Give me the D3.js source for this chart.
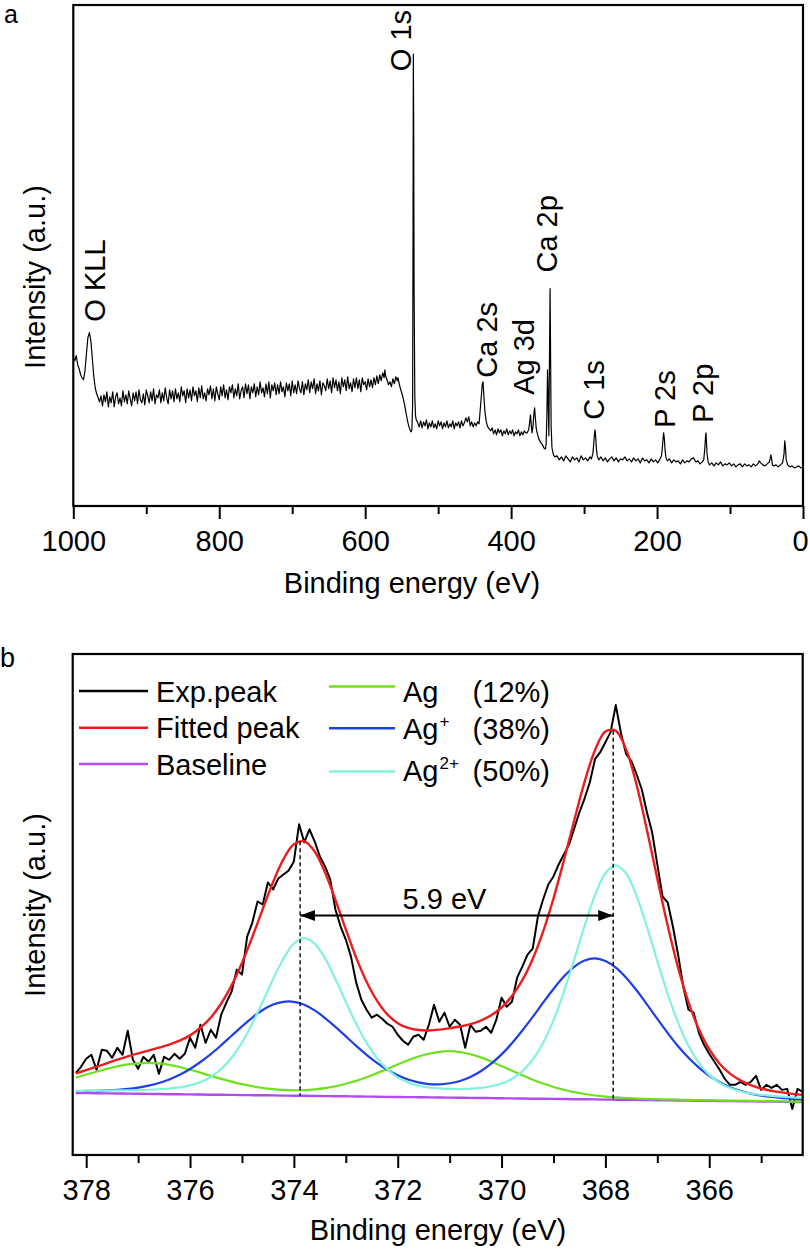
<!DOCTYPE html>
<html><head><meta charset="utf-8">
<script src="https://cdn.jsdelivr.net/npm/d3@7"></script>
<style>body{margin:0;background:#fff}svg{display:block}</style>
</head><body>
<svg id="chart" width="810" height="1249"></svg>
<script>
// ---------------- Panel a : survey spectrum ----------------
const surveyPoints = [
[1000,148],[998,145],[996,150],[994,141],[992,137],[990,131],[988,128],[986,126],[984,135],[982,152],[980,168],[978,173],[976,165],[974,148],[972,130],[970,118],[968,112],[966,108],[964,104],[962,110],
[960,100],[958,111],[956,104],[954,114],[952,99],[950,109],[948,103],[946,114],[944,99],[942,109],[940,113],[938,102],[936,108],[934,100],[932,115],[930,104],[928,111],[926,102],[924,115],[922,107],
[920,100],[918,113],[916,105],[914,114],[912,102],[910,116],[908,106],[906,103],[904,112],[902,101],[900,116],[898,110],[896,103],[894,114],[892,105],[890,117],[888,102],[886,111],[884,108],[882,116],
[880,103],[878,113],[876,105],[874,118],[872,108],[870,102],[868,116],[866,107],[864,115],[862,104],[860,117],[858,107],[856,113],[854,104],[852,119],[850,110],[848,115],[846,103],[844,117],[842,108],
[840,116],[838,105],[836,119],[834,110],[832,115],[830,104],[828,118],[826,108],[824,120],[822,107],[820,113],[818,105],[816,117],[814,111],[812,120],[810,107],[808,117],[806,105],[804,119],[802,112],
[800,106],[798,119],[796,110],[794,121],[792,108],[790,116],[788,106],[786,119],[784,113],[782,121],[780,108],[778,117],[776,110],[774,122],[772,107],[770,115],[768,119],[766,108],[764,122],[762,112],
[760,121],[758,107],[756,119],[754,113],[752,122],[750,109],[748,119],[746,111],[744,124],[742,113],[740,118],[738,109],[736,122],[734,112],[732,124],[730,108],[728,121],[726,115],[724,123],[722,111],
[720,121],[718,112],[716,124],[714,114],[712,119],[710,109],[708,123],[706,115],[704,122],[702,110],[700,125],[698,113],[696,121],[694,112],[692,125],[690,117],[688,113],[686,124],[684,111],[682,122],
[680,116],[678,126],[676,113],[674,124],[672,117],[670,127],[668,112],[666,122],[664,115],[662,125],[660,111],[658,123],[656,120],[654,115],[652,127],[650,117],[648,125],[646,113],[644,128],[642,118],
[640,126],[638,115],[636,124],[634,112],[632,128],[630,119],[628,126],[626,115],[624,129],[622,117],[620,123],[618,114],[616,127],[614,118],[612,128],[610,117],[608,126],[606,114],[604,128],[602,121],
[600,124],[598,116],[596,127],[594,119],[592,126],[590,118],[588,128],[586,121],[584,130],[582,122],[580,131],[578,125],[576,133],[574,128],[573,136],[572,130],[570,126],[568,121],[566,124],[564,119],[562,127],[560,122],[558,129],[556,125],[555,128],[554,124],[552,118],[550,113],[548,108],[546,101],[544,93],[542,85],[540,79],[538,75],[537,74],[536,76],[535,100],[534.5,250],[534,451],[533.5,380],[533,220],[532,110],[531,90],[530,86],
[528,83],[526,79],[524,85],[522,78],[520,84],[518,80],[516,86],[514,77],[512,83],[510,79],[508,85],[506,78],[504,82],[502,77],[500,85],[498,80],[496,84],[494,77],[492,83],[490,79],[488,85],[486,78],[484,82],[482,79],[480,85],[478,77],[476,83],[474,80],[472,84],[470,78],[468,85],[466,80],[464,83],[462,88],[460,84],[458,89],[456,80],[454,84],[452,79],[450,83],[448,80],[446,84],[444,82],[443,90],[441,108],[439.5,122],[438.5,124],[437.5,112],[436,95],[434,84],[432,79],[430,77],
[428,75],[426,78],[424,72],[422,76],[420,71],[418,77],[416,73],[414,76],[412,70],[410,75],[408,72],[406,77],[404,71],[402,75],[400,72],[398,76],[396,70],[394,74],[392,72],[390,76],[388,70],[386,74],[384,71],[382,75],[380,73],[378,73],[376,76],[374.5,84],[373.5,91],[372.5,82],[371.4,73],[370,80],[368.8,92],[367.8,98],[366.8,88],[365.5,77],[364.3,73],[362,67],[360,64],[357,61],[355,58],[353,57],[352,62],[351,90],[350.1,136],[349.2,105],[348.3,70],[347.4,150],[346.6,217],[345.9,150],[345.2,80],[344,58],[342,51],[340,49],
[337,50],[334,46],[331,49],[328,45],[325,50],[322,47],[319,44],[316,49],[313,46],[310,48],[307,44],[304,50],[301,46],[298,48],[295,45],[292,49],[290,47],[288,52],[287,60],[286,70],[285,76],[284,68],[283,56],[282,50],[280,46],[277,49],[274,45],[271,48],[268,44],[265,47],[262,49],[259,45],[256,48],[253,44],[250,47],[247,46],[244,49],[241,45],[238,47],[235,44],[232,48],[229,45],[226,47],[223,43],[220,48],[217,45],[214,46],[211,43],[208,47],[205,44],[202,46],[199,43],[196,47],[194,50],[193,56],[192,65],[191,73],[190,67],[189,56],[188,49],[186,45],[183,47],[180,43],[177,46],[174,44],[171,45],[168,42],[165,46],[162,43],[159,45],[156,44],[153,47],[150,48],[147,44],[144,45],[141,42],[138,44],[136,46],[134.5,58],[133.5,70],[133,73],[132.3,64],[131.5,52],[130,44],[128,41],[125,43],[122,40],[119,43],[116,41],[113,44],[110,40],[107,42],[104,41],[101,43],[98,40],[95,42],[92,39],[89,41],[86,42],[83,39],[80,42],[77,40],[74,41],[71,39],[68,42],[65,40],[62,42],[60,45],[58,43],[55,41],[52,40],[49,42],[46,44],[44,51],[43,47],[42,41],[40,40],[37,41],[34,39],[31,41],[28,43],[26,52],[25,65],[24,58],[23,46],[21,41],[18,39],[15,40],[12,38],[9,39],[6,40],[3,38],[0,39]
];
const surveyTicks = [1000, 800, 600, 400, 200, 0];
const surveyMinorTicks = [900, 700, 500, 300, 100];
const peakLabelText = ["O KLL", "O 1s", "Ca 2s", "Ag 3d", "Ca 2p", "C 1s", "P 2s", "P 2p"];
const peakLabelEnergy = [970.3, 551, 433, 382.4, 350.8, 286.5, 189.2, 137.2];
const peakLabelBottom = [184, 434, 128, 111, 233, 86, 78, 83];

// ---------------- Panel b : Ag 3d high resolution ----------------
const hrTicks = [378, 376, 374, 372, 370, 368, 366];
const hrMinorTicks = [377, 375, 373, 371, 369, 367, 365];
const fitEnergy = [378.2,378.0,377.8,377.6,377.4,377.2,377.0,376.8,376.6,376.4,376.2,376.0,375.8,375.6,375.4,375.2,375.0,374.8,374.6,374.4,374.2,374.0,373.8,373.6,373.4,373.2,373.0,372.8,372.6,372.4,372.2,372.0,371.8,371.6,371.4,371.2,371.0,370.8,370.6,370.4,370.2,370.0,369.8,369.6,369.4,369.2,369.0,368.8,368.6,368.4,368.2,368.0,367.8,367.6,367.4,367.2,367.0,366.8,366.6,366.4,366.2,366.0,365.8,365.6,365.4,365.2,365.0,364.8,364.6,364.4,364.2];
const baselineValues = [61.9,61.8,61.6,61.5,61.4,61.3,61.1,61.0,60.9,60.7,60.6,60.5,60.4,60.2,60.1,60.0,59.8,59.7,59.6,59.5,59.3,59.2,59.1,58.9,58.8,58.7,58.6,58.4,58.3,58.2,58.0,57.9,57.8,57.7,57.5,57.4,57.3,57.1,57.0,56.9,56.8,56.6,56.5,56.4,56.2,56.1,56.0,55.9,55.7,55.6,55.5,55.3,55.2,55.1,55.0,54.8,54.7,54.6,54.4,54.3,54.2,54.1,53.9,53.8,53.7,53.5,53.4,53.3,53.2,53.0,52.9];
const agValues = [77.4,80.3,83.1,85.9,88.4,90.4,91.5,91.9,91.4,89.9,87.8,85.1,82.2,79.0,76.0,73.2,70.7,68.6,66.9,65.7,64.9,64.6,64.8,65.5,66.7,68.6,71.1,74.0,77.6,81.7,85.9,90.3,94.5,98.3,101.1,103.0,103.6,102.7,100.6,97.4,93.4,88.8,84.2,79.6,75.2,71.3,67.9,65.1,62.7,60.9,59.4,58.3,57.5,56.9,56.4,56.0,55.7,55.5,55.2,55.0,54.8,54.7,54.4,54.3,54.2,54.0,53.8,53.7,53.6,53.4,53.2];
const agPlusValues = [63.8,63.9,64.1,64.5,65.1,66.0,67.3,69.2,71.9,75.4,80.0,85.8,92.8,100.7,109.6,119.0,128.4,137.2,144.7,150.1,152.9,152.9,149.9,144.3,136.7,127.9,118.4,108.9,100.0,92.0,85.1,79.6,75.4,72.5,70.8,70.5,71.6,73.9,77.9,83.6,91.1,100.4,111.5,124.2,137.8,152.0,165.7,178.1,187.8,194.1,196.2,193.7,187.1,177.0,164.4,150.3,135.8,121.7,108.5,97.0,87.2,79.1,72.6,67.7,64.1,61.3,59.3,57.9,57.0,56.1,55.6];
const ag2PlusValues = [64.0,64.1,64.1,64.2,64.4,64.6,64.8,65.1,65.6,66.3,67.5,69.5,72.8,77.9,85.8,97.1,112.2,131.2,153.0,175.7,196.1,211.1,216.5,210.9,196.2,175.6,152.9,130.9,111.9,96.8,85.4,77.5,72.5,69.3,67.4,66.4,66.0,65.8,66.2,67.0,68.6,71.2,75.9,83.5,95.1,111.8,134.4,162.6,195.0,228.8,259.4,281.2,289.1,280.9,258.7,227.7,193.6,160.7,132.1,109.1,92.0,80.0,71.9,66.8,63.6,61.4,60.0,59.0,58.3,57.5,57.0];
const fittedValues = [81.4,84.7,88.1,91.6,95.1,98.4,101.4,104.2,107.1,110.2,114.1,119.4,127.0,137.2,151.2,169.3,191.7,217.6,245.4,272.5,295.3,310.2,313.0,302.9,282.0,254.7,225.2,197.0,172.9,154.1,140.4,131.6,126.8,124.7,124.3,125.1,126.6,128.2,130.7,134.2,139.5,147.2,158.6,174.5,195.7,222.9,256.0,294.0,334.1,372.6,404.0,422.6,423.3,404.6,369.5,324.4,275.7,228.7,187.0,152.5,125.6,105.6,91.1,81.2,74.5,69.7,66.3,64.0,62.5,61.0,60.0];
const expPoints = [
[378.2,82],[378.1,88],[378.0,96],[377.9,100],[377.8,85],[377.7,105],[377.6,104],[377.5,97],[377.4,107],[377.3,100],[377.2,124],[377.1,95],
[377.0,86],[376.9,98],[376.8,93],[376.7,100],[376.6,81],[376.5,98],[376.4,95],[376.3,101],[376.2,96],[376.1,101],
[376.0,117],[375.9,107],[375.8,130],[375.7,112],[375.6,125],[375.5,117],[375.4,140],[375.3,152],[375.2,163],[375.1,185],
[375.0,180],[374.9,218],[374.8,232],[374.7,253],[374.6,250],[374.5,272],[374.4,265],[374.3,276],[374.2,280],[374.1,284],
[374.0,293],[373.9,330],[373.8,312],[373.7,325],[373.6,313],[373.5,298],[373.4,288],[373.3,275],[373.2,245],[373.1,228],
[373.0,215],[372.9,198],[372.8,172],[372.7,155],[372.6,145],[372.5,137],[372.4,140],[372.3,136],[372.2,131],[372.1,128],
[372.0,120],[371.9,114],[371.8,110],[371.7,118],[371.6,120],[371.5,115],[371.4,130],[371.3,150],[371.2,133],[371.1,142],
[371.0,128],[370.9,135],[370.8,130],[370.7,107],[370.6,130],[370.5,123],[370.4,124],[370.3,128],[370.2,122],[370.1,135],
[370.0,157],[369.9,148],[369.8,153],[369.7,177],[369.6,188],[369.5,200],[369.4,206],[369.3,238],[369.2,255],[369.1,270],
[369.0,278],[368.9,290],[368.8,300],[368.7,310],[368.6,326],[368.5,342],[368.4,356],[368.3,372],[368.2,395],[368.1,402],
[368.0,412],[367.9,422],[367.8,449],[367.7,421],[367.6,400],[367.5,393],[367.4,380],[367.3,365],[367.2,342],[367.1,322],
[367.0,290],[366.9,258],[366.8,252],[366.7,228],[366.6,200],[366.5,168],[366.4,145],[366.3,142],[366.2,122],[366.1,110],
[366.0,101],[365.9,93],[365.8,85],[365.7,76],[365.6,70],[365.5,70],[365.4,73],[365.3,70],[365.2,73],[365.1,79],
[365.0,65],[364.9,70],[364.8,67],[364.7,70],[364.6,65],[364.5,66],[364.4,46],[364.3,66],[364.2,63]
];
const legendLeftLabels = ["Exp.peak", "Fitted peak", "Baseline"];
const componentNames = ["Ag", "Ag", "Ag"];
const componentCharges = ["", "+", "2+"];
const componentShares = ["(12%)", "(38%)", "(50%)"];
const peakCenters = [373.88, 367.85];
const splittingLabel = "5.9 eV";

// ---------------- styles ----------------
const FONT = "'Liberation Sans', Arial, Helvetica, sans-serif";
const C = {exp:"#000000", fit:"#ee1c1c", base:"#b24cf0", ag:"#6ee01e", agp:"#1f3fe6", ag2p:"#80f2de"};

const svg = d3.select("#chart");
svg.append("rect").attr("width",810).attr("height",1249).attr("fill","#fff");
const defs = svg.append("defs");

function frame(x0, y0, x1, y1) {
  svg.append("rect").attr("x", x0).attr("y", y0).attr("width", x1 - x0).attr("height", y1 - y0)
    .attr("fill", "none").attr("stroke", "#000").attr("stroke-width", 2.2);
}
function xAxis(scale, y, majors, minors, fmt) {
  const gMin = svg.append("g").attr("transform", `translate(0,${y})`)
    .call(d3.axisBottom(scale).tickValues(minors).tickSize(8).tickFormat(""));
  const gMaj = svg.append("g").attr("transform", `translate(0,${y})`)
    .call(d3.axisBottom(scale).tickValues(majors).tickSize(13).tickFormat(fmt));
  [gMin, gMaj].forEach(g => {
    g.select(".domain").remove();
    g.selectAll("line").attr("stroke", "#000").attr("stroke-width", 2);
    g.selectAll("text").attr("y", 44.5).attr("dy", null)
      .attr("font-family", FONT).attr("font-size", 29).attr("fill", "#000");
  });
  return gMaj;
}
function text(x, y, str, opts = {}) {
  const t = svg.append("text").attr("x", x).attr("y", y).text(str)
    .attr("font-family", FONT).attr("font-size", opts.size || 29).attr("fill", "#000")
    .attr("text-anchor", opts.anchor || "start");
  if (opts.rotate) t.attr("transform", `rotate(-90,${x},${y})`);
  return t;
}

// ===== Panel a =====
const xa = d3.scaleLinear().domain([1000, 0]).range([73.3, 803]);
const ya = d3.scaleLinear().domain([0, 500]).range([506, 5]);
defs.append("clipPath").attr("id", "clipA").append("rect")
  .attr("x", xa(1000)).attr("y", ya(500)).attr("width", xa(0) - xa(1000)).attr("height", ya(0) - ya(500));
svg.append("path").datum(surveyPoints).attr("clip-path", "url(#clipA)")
  .attr("d", d3.line().x(d => xa(d[0])).y(d => ya(d[1])))
  .attr("fill", "none").attr("stroke", "#000").attr("stroke-width", 1.2).attr("stroke-linejoin", "round");
frame(xa(1000), ya(500), xa(0), ya(0));
const axA = xAxis(xa, ya(0), surveyTicks, surveyMinorTicks, d3.format("d"));
axA.selectAll("text").filter(d => d === 0).attr("dx", -3);
peakLabelText.forEach((s, i) => {
  text(xa(peakLabelEnergy[i]) + 10, ya(peakLabelBottom[i]), s, {rotate: true});
});
text(412, 593, "Binding energy (eV)", {anchor: "middle"});
text(45, 277, "Intensity (a.u.)", {anchor: "middle", rotate: true});
text(4, 23, "a", {size: 25});

// ===== Panel b =====
const xb = d3.scaleLinear().domain([378.26, 364.2]).range([72.7, 802.7]);
const yb = d3.scaleLinear().domain([0, 500]).range([1155, 654]);
defs.append("clipPath").attr("id", "clipB").append("rect")
  .attr("x", xb(378.26)).attr("y", yb(500)).attr("width", xb(364.2) - xb(378.26)).attr("height", yb(0) - yb(500));
const gB = svg.append("g").attr("clip-path", "url(#clipB)");
const lineFit = vals => d3.line().curve(d3.curveCatmullRom.alpha(0.5))
  .x((d, i) => xb(fitEnergy[i])).y(d => yb(d))(vals);
gB.append("path").datum(expPoints)
  .attr("d", d3.line().x(d => xb(d[0])).y(d => yb(d[1])))
  .attr("fill", "none").attr("stroke", C.exp).attr("stroke-width", 2).attr("stroke-linejoin", "round");
gB.append("path").attr("d", lineFit(fittedValues)).attr("fill", "none").attr("stroke", C.fit).attr("stroke-width", 2.4);
gB.append("path").attr("d", lineFit(baselineValues)).attr("fill", "none").attr("stroke", C.base).attr("stroke-width", 2.4);
gB.append("path").attr("d", lineFit(agValues)).attr("fill", "none").attr("stroke", C.ag).attr("stroke-width", 2.2);
gB.append("path").attr("d", lineFit(agPlusValues)).attr("fill", "none").attr("stroke", C.agp).attr("stroke-width", 2.2);
gB.append("path").attr("d", lineFit(ag2PlusValues)).attr("fill", "none").attr("stroke", C.ag2p).attr("stroke-width", 2.2);

// dashed peak markers: from fitted maximum down to baseline
peakCenters.forEach(e => {
  const idx = d3.minIndex(fitEnergy, f => Math.abs(f - e));
  svg.append("line").attr("x1", xb(e)).attr("x2", xb(e))
    .attr("y1", yb(fittedValues[idx])).attr("y2", yb(baselineValues[idx]))
    .attr("stroke", "#000").attr("stroke-width", 1.4).attr("stroke-dasharray", "4,3");
});
// double arrow
defs.append("marker").attr("id", "arr").attr("viewBox", "0 0 15 11").attr("refX", 15).attr("refY", 5.5)
  .attr("markerWidth", 15).attr("markerHeight", 11).attr("markerUnits", "userSpaceOnUse")
  .attr("orient", "auto-start-reverse")
  .append("path").attr("d", "M0,0 L15,5.5 L0,11 Z").attr("fill", "#000");
svg.append("line").attr("x1", xb(peakCenters[0])).attr("x2", xb(peakCenters[1]))
  .attr("y1", yb(239)).attr("y2", yb(239)).attr("stroke", "#000").attr("stroke-width", 2.2)
  .attr("marker-start", "url(#arr)").attr("marker-end", "url(#arr)");
text(xb(371.1), yb(246), splittingLabel, {anchor: "middle"});

frame(xb(378.26), yb(500), xb(364.2), yb(0));
xAxis(xb, yb(0), hrTicks, hrMinorTicks, d3.format("d"));
text(438, 1240, "Binding energy (eV)", {anchor: "middle"});
text(45, 905, "Intensity (a.u.)", {anchor: "middle", rotate: true});
text(0, 667, "b", {size: 27});

// legend
const leftColors = [C.exp, C.fit, C.base];
const leftLineY = [691, 727.7, 764];
legendLeftLabels.forEach((s, i) => {
  svg.append("line").attr("x1", 79).attr("x2", 148).attr("y1", leftLineY[i]).attr("y2", leftLineY[i])
    .attr("stroke", leftColors[i]).attr("stroke-width", 2.4);
  text(156, leftLineY[i] + 10.7, s);
});
const rightColors = [C.ag, C.agp, C.ag2p];
const rightLineY = [686.5, 728.3, 771.5];
const rightBaseY = [701.5, 739, 781];
componentNames.forEach((s, i) => {
  svg.append("line").attr("x1", 329).attr("x2", 395).attr("y1", rightLineY[i]).attr("y2", rightLineY[i])
    .attr("stroke", rightColors[i]).attr("stroke-width", 2.4);
  const t = text(403, rightBaseY[i], s);
  if (componentCharges[i]) {
    t.append("tspan").attr("font-size", 17).attr("dy", -12).attr("dx", 1).text(componentCharges[i]);
  }
  text(472.6, rightBaseY[i], componentShares[i]);
});
</script>
</body></html>
